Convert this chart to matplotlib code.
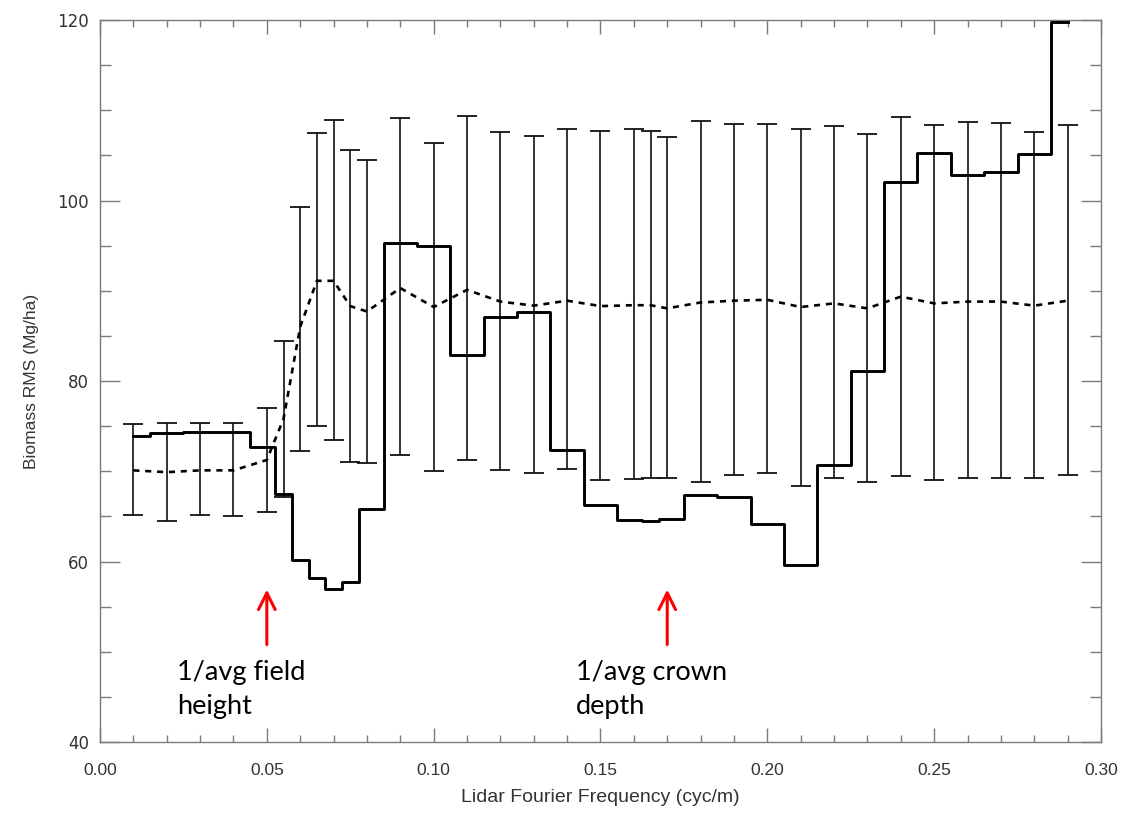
import matplotlib
matplotlib.use("Agg")
import matplotlib.pyplot as plt
from matplotlib.ticker import MultipleLocator, FormatStrFormatter
import numpy as np

# ---- data ----
freq = [0.01, 0.02, 0.03, 0.04, 0.05, 0.055, 0.06, 0.065, 0.07, 0.075, 0.08,
        0.09, 0.10, 0.11, 0.12, 0.13, 0.14, 0.15, 0.16, 0.165, 0.17, 0.18,
        0.19, 0.20, 0.21, 0.22, 0.23, 0.24, 0.25, 0.26, 0.27, 0.28, 0.29]

rms_step = [73.9, 74.2, 74.3, 74.4, 72.7, 67.5, 60.2, 58.2, 56.9, 57.7, 65.8,
            95.3, 95.0, 82.9, 87.1, 87.6, 72.4, 66.3, 64.6, 64.5, 64.7, 67.4,
            67.2, 64.2, 59.6, 70.7, 81.1, 102.1, 105.3, 102.8, 103.2, 105.2, 119.8]

rms_mean = [70.1, 69.9, 70.1, 70.1, 71.25, 75.8, 86.0, 91.1, 91.1, 88.3, 87.7,
            90.3, 88.2, 90.1, 88.8, 88.35, 88.9, 88.3, 88.4, 88.4, 88.05, 88.7,
            88.9, 89.0, 88.2, 88.6, 88.05, 89.35, 88.6, 88.8, 88.8, 88.35, 88.9]

err_upper = [75.2, 75.3, 75.3, 75.35, 77.0, 84.4, 99.3, 107.45, 108.9, 105.55, 104.5,
             109.1, 106.4, 109.4, 107.55, 107.1, 107.9, 107.7, 107.95, 107.7, 107.0, 108.8,
             108.5, 108.45, 107.95, 108.3, 107.4, 109.3, 108.4, 108.7, 108.55, 107.6, 108.4]

err_lower = [65.1, 64.5, 65.2, 65.0, 65.5, 67.1, 72.2, 75.0, 73.5, 71.0, 70.9,
             71.8, 70.0, 71.2, 70.1, 69.8, 70.25, 69.0, 69.1, 69.25, 69.25, 68.85,
             69.55, 69.8, 68.4, 69.2, 68.8, 69.5, 69.05, 69.2, 69.2, 69.25, 69.6]

annot_x = [0.05, 0.17]
annot_text = ["1/avg field\nheight", "1/avg crown\ndepth"]
text_x = [0.0232, 0.1427]

# ---- figure ----
fig = plt.figure(figsize=(11.26, 8.13), dpi=100)
ax = fig.add_axes([0.0888, 0.0873, 0.8890, 0.8881])

x = np.array(freq)
m = np.array(rms_mean)
yerr = [m - np.array(err_lower), np.array(err_upper) - m]

ax.errorbar(x, m, yerr=yerr, fmt='none', ecolor='#111111', elinewidth=1.2,
            capsize=7, capthick=1.3, zorder=2)
ax.plot(x, m, color='black', lw=1.9, linestyle=(0, (2.3, 2.2)), zorder=3)
ax.plot(x, rms_step, color='black', lw=2.1, drawstyle='steps-mid', zorder=4)

ax.set_xlim(0.0, 0.30)
ax.set_ylim(40, 120)

ax.xaxis.set_major_locator(MultipleLocator(0.05))
ax.xaxis.set_minor_locator(MultipleLocator(0.01))
ax.yaxis.set_major_locator(MultipleLocator(20))
ax.yaxis.set_minor_locator(MultipleLocator(5))
ax.xaxis.set_major_formatter(FormatStrFormatter('%.2f'))

gray = '#7a7a7a'
for s in ax.spines.values():
    s.set_color(gray)
    s.set_linewidth(1.0)

ax.tick_params(axis='both', which='both', direction='in', top=True, right=True,
               color=gray, width=1.0)
ax.tick_params(axis='x', which='major', length=10, pad=15)
ax.tick_params(axis='x', which='minor', length=5)
ax.tick_params(axis='y', which='major', length=14.5, pad=8)
ax.tick_params(axis='y', which='minor', length=8)

for lab in ax.get_xticklabels():
    lab.set_fontfamily(['Liberation Sans', 'DejaVu Sans'])
    lab.set_fontsize(12.5)
    lab.set_color('#333333')
for lab in ax.get_yticklabels():
    lab.set_fontfamily(['DejaVu Sans'])
    lab.set_fontsize(12)
    lab.set_color('#333333')

ax.set_xlabel('Lidar Fourier Frequency (cyc/m)', fontsize=14,
              family=['Liberation Sans', 'DejaVu Sans'], color='#333333', labelpad=8)
ax.set_ylabel('Biomass RMS (Mg/ha)', fontsize=12.5,
              family=['Liberation Sans', 'DejaVu Sans'], color='#333333', labelpad=13)

for xa, tx, t in zip(annot_x, text_x, annot_text):
    ax.annotate('', xy=(xa, 56.9), xytext=(xa, 50.8),
                arrowprops=dict(arrowstyle='->', color='red', lw=2.2,
                                mutation_scale=30, shrinkA=0, shrinkB=0))
    ax.text(tx, 45.8, t, fontsize=19.5, family=['Lato', 'DejaVu Sans'],
            ha='left', va='center', linespacing=1.45, color='black')

fig.savefig('out.png', dpi=100)
